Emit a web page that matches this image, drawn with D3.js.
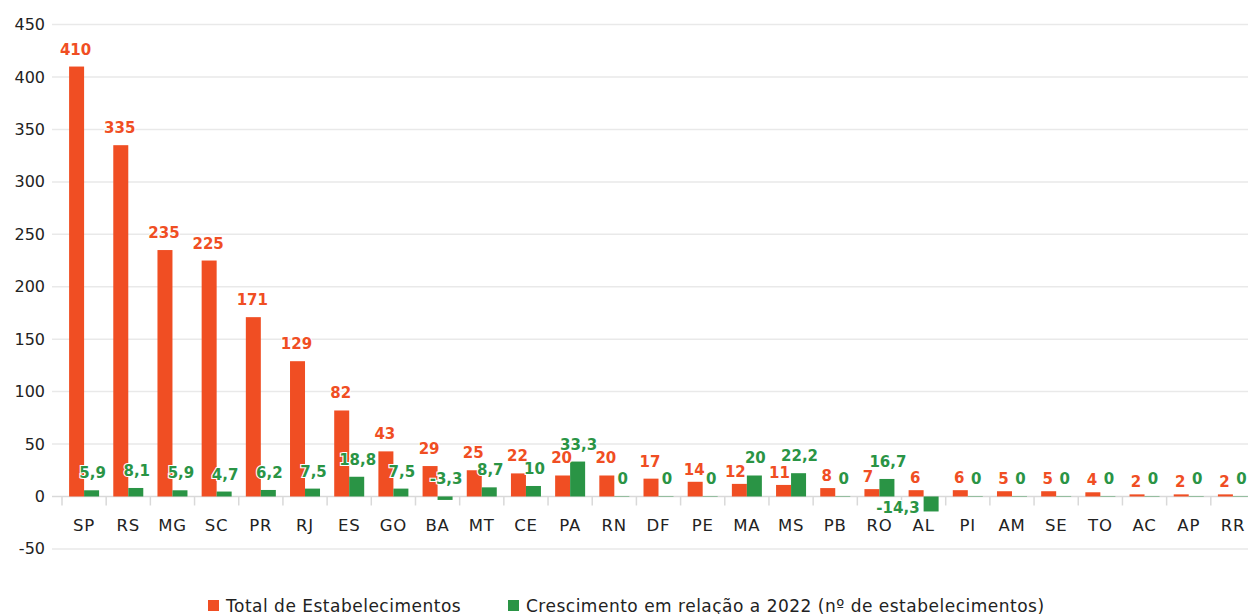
<!DOCTYPE html>
<html lang="pt">
<head>
<meta charset="UTF-8">
<title>Estabelecimentos por UF</title>
<script src="https://d3js.org/d3.v7.min.js"></script>
<style>
  body { margin: 0; padding: 0; background: #fff; }
  svg text { font-family: "DejaVu Sans", sans-serif; }
</style>
</head>
<body>
<script>
  // dados
  let ufs = ["SP", "RS", "MG", "SC", "PR", "RJ", "ES", "GO", "BA", "MT", "CE", "PA", "RN", "DF",
    "PE", "MA", "MS", "PB", "RO", "AL", "PI", "AM", "SE", "TO", "AC", "AP", "RR"]
  let total = [410, 335, 235, 225, 171, 129, 82, 43, 29, 25, 22, 20, 20, 17,
    14, 12, 11, 8, 7, 6, 6, 5, 5, 4, 2, 2, 2]
  let crescimento = [5.9, 8.1, 5.9, 4.7, 6.2, 7.5, 18.8, 7.5, -3.3, 8.7, 10, 33.3, 0, 0,
    0, 20, 22.2, 0, 16.7, -14.3, 0, 0, 0, 0, 0, 0, 0]
  let yTicks = [-50, 0, 50, 100, 150, 200, 250, 300, 350, 400, 450]
  let series = ["Total de Estabelecimentos", "Crescimento em relação a 2022 (nº de estabelecimentos)"]

  let width = 1248
  let height = 614
  let laranja = "#F04E23"
  let verde = "#2A9445"

  let svg = d3.select("body").append("svg")
    .attr("width", width)
    .attr("height", height)

  let y = d3.scaleLinear().domain([-50, 450]).range([548.9, 24.6])
  let x = d3.scaleBand().domain(ufs).range([62, 1255])
  let bw = x.bandwidth()
  let x1 = d3.scaleBand().domain(["t", "c"]).range([bw / 2 - 15, bw / 2 + 15])

  let fmt = v => String(v).replace(".", ",")

  // grade
  svg.append("g").selectAll("line").data(yTicks).join("line")
    .attr("x1", 52).attr("x2", width)
    .attr("y1", d => y(d)).attr("y2", d => y(d))
    .attr("stroke", d => d === 0 ? "#d9d9d9" : "#e9e9e9")
    .attr("stroke-width", 1.5)

  svg.append("g").selectAll("text").data(yTicks).join("text")
    .attr("x", 45).attr("y", d => y(d))
    .attr("text-anchor", "end")
    .attr("dominant-baseline", "central")
    .attr("font-size", "16px")
    .attr("fill", "#222")
    .text(d => d)

  // marcas entre categorias
  svg.append("g").selectAll("line").data(ufs).join("line")
    .attr("x1", d => x(d)).attr("x2", d => x(d))
    .attr("y1", y(0)).attr("y2", y(0) + 9)
    .attr("stroke", "#d9d9d9")
    .attr("stroke-width", 1.5)

  svg.append("g").selectAll("text").data(ufs).join("text")
    .attr("x", d => x(d) + bw / 2)
    .attr("y", y(0) + 29)
    .attr("text-anchor", "middle")
    .attr("dominant-baseline", "central")
    .attr("font-size", "16.5px")
    .attr("letter-spacing", "0.8px")
    .attr("fill", "#222")
    .text(d => d)

  // barras
  svg.append("g").selectAll("rect").data(ufs).join("rect")
    .attr("x", d => x(d) + x1("t"))
    .attr("width", x1.bandwidth())
    .attr("y", (d, i) => y(total[i]))
    .attr("height", (d, i) => y(0) - y(total[i]))
    .attr("fill", laranja)

  svg.append("g").selectAll("rect").data(ufs).join("rect")
    .attr("x", d => x(d) + x1("c"))
    .attr("width", x1.bandwidth())
    .attr("y", (d, i) => crescimento[i] === 0 ? y(0) - 0.5 : y(Math.max(crescimento[i], 0)))
    .attr("height", (d, i) => crescimento[i] === 0 ? 1 : Math.abs(y(crescimento[i]) - y(0)))
    .attr("fill", verde)
    .attr("opacity", (d, i) => crescimento[i] === 0 ? 0.4 : 1)

  // rótulos (os pequenos ficam mais perto da barra, como no Excel)
  svg.append("g").selectAll("text").data(ufs).join("text")
    .attr("x", (d, i) => x(d) + x1("t") + x1.bandwidth() / 2 - (total[i] < 17 && crescimento[i] > 10 ? 4 : 1))
    .attr("y", (d, i) => y(total[i]) - (total[i] < 17 ? 7 : 12))
    .attr("text-anchor", "middle")
    .attr("font-size", "15px")
    .attr("font-weight", "bold")
    .attr("fill", laranja)
    .attr("stroke", "#fff").attr("stroke-width", 2).attr("paint-order", "stroke")
    .text((d, i) => total[i])

  svg.append("g").selectAll("text").data(ufs).join("text")
    .attr("x", (d, i) => crescimento[i] < -10 ? x(d) + x1("c") - 4 : x(d) + x1("c") + x1.bandwidth() / 2 + 1)
    .attr("y", (d, i) => crescimento[i] < -10 ? y(0) + 17 : y(Math.max(crescimento[i], 0)) - 12)
    .attr("text-anchor", (d, i) => crescimento[i] < -10 ? "end" : "middle")
    .attr("font-size", "15px")
    .attr("font-weight", "bold")
    .attr("fill", verde)
    .attr("stroke", "#fff").attr("stroke-width", 2).attr("paint-order", "stroke")
    .text((d, i) => fmt(crescimento[i]))

  // legenda
  let leg = svg.append("g")
  let lx = [208, 508]
  let cores = [laranja, verde]
  series.forEach((s, i) => {
    leg.append("rect")
      .attr("x", lx[i]).attr("y", 600)
      .attr("width", 11).attr("height", 11)
      .attr("fill", cores[i])
    leg.append("text")
      .attr("x", lx[i] + 18).attr("y", 605.5)
      .attr("dominant-baseline", "central")
      .attr("font-size", "17px")
      .attr("letter-spacing", "0.5px")
      .attr("fill", "#222")
      .text(s)
  })
</script>
</body>
</html>
